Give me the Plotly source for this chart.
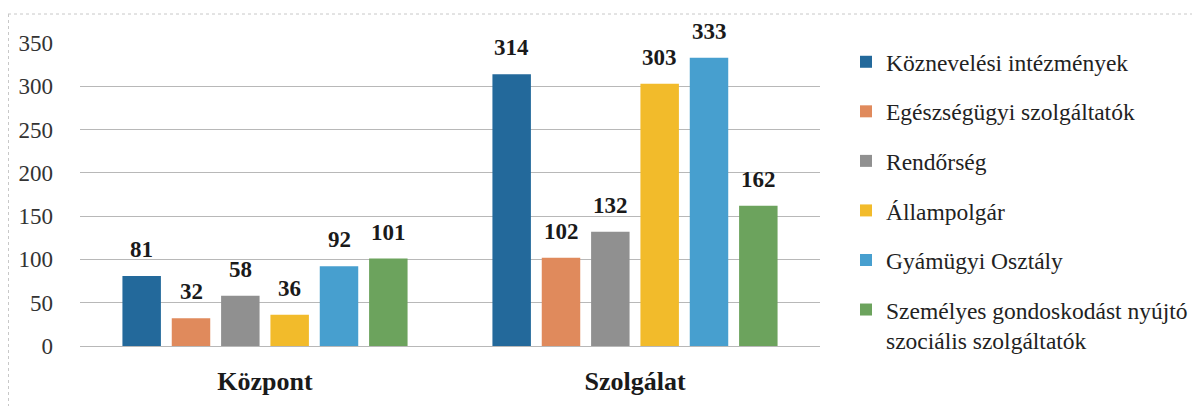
import plotly.graph_objects as go

categories = ["Központ", "Szolgálat"]
series_names = [
    "Köznevelési intézmények",
    "Egészségügyi szolgáltatók",
    "Rendőrség",
    "Állampolgár",
    "Gyámügyi Osztály",
    "Személyes gondoskodást nyújtó<br>szociális szolgáltatók",
]
kozneveles = [81, 314]
egeszsegugy = [32, 102]
rendorseg = [58, 132]
allampolgar = [36, 303]
gyamugy = [92, 333]
szemelyes = [101, 162]
series_values = [kozneveles, egeszsegugy, rendorseg, allampolgar, gyamugy, szemelyes]
colors = ["#23699b", "#e08a5c", "#909090", "#f2bb2b", "#479fcf", "#6ca35d"]
y_ticks = [0, 50, 100, 150, 200, 250, 300, 350]

FONT = "Liberation Serif"
BARGAP = 0.2
GROUPGAP = 0.22

# figure sits 8px inside the page (default body margin)
FW, FH = 1192, 398
W0, W1 = 72, 812
T0, B0 = 35, 338

fig = go.Figure()
n = len(series_values)
for i, (name, vals, col) in enumerate(zip(series_names, series_values, colors)):
    fig.add_trace(go.Bar(
        x=categories, y=vals, name=name,
        marker=dict(color=col, line=dict(width=0)),
        legendgroup=f"g{i}",
        hoverinfo="x+y+name",
    ))

# value labels above bars, positioned via the grouped-bar slot geometry
slot = (1 - BARGAP) / n
for i, vals in enumerate(series_values):
    for ci, v in enumerate(vals):
        xc = ci - (1 - BARGAP) / 2 + slot * (i + 0.5)
        fig.add_annotation(
            x=xc, y=v, xref="x", yref="y",
            text=f"<b>{v}</b>", showarrow=False,
            yanchor="bottom", yshift=12,
            font=dict(family=FONT, size=23, color="#1a1a1a"),
        )

def px_x(p):
    return (p - W0) / (W1 - W0)
def px_y(p):
    return (B0 - p) / (B0 - T0)

fig.update_layout(
    width=FW, height=FH,
    margin=dict(l=W0, r=FW - W1, t=T0, b=FH - B0, autoexpand=False),
    paper_bgcolor="white", plot_bgcolor="white",
    barmode="group", bargap=BARGAP, bargroupgap=GROUPGAP,
    font=dict(family=FONT, color="#222222"),
    showlegend=True,
    legend=dict(
        xref="container", yref="container",
        x=838 / FW, y=1 - 32 / FH, xanchor="left", yanchor="top",
        font=dict(family=FONT, size=23.5, color="#222222"),
        tracegroupgap=16, traceorder="grouped",
        valign="top",
        bgcolor="rgba(0,0,0,0)",
        maxheight=360,
    ),
)
fig.update_xaxes(
    showgrid=False, showline=False, ticks="",
    tickfont=dict(family=FONT, size=26, color="#1a1a1a"),
    tickprefix="<b>", ticksuffix="</b>",
    ticklabelstandoff=17, automargin=False,
    range=[-0.5, 1.5],
)
fig.update_yaxes(
    range=[0, 350], tickvals=y_ticks,
    showgrid=True, gridcolor="#b8b8b8", gridwidth=1,
    zeroline=True, zerolinecolor="#b8b8b8", zerolinewidth=1,
    showline=False, ticks="",
    tickfont=dict(family=FONT, size=23, color="#333333"),
    ticklabelstandoff=26, automargin=False,
)
# outer dotted frame (top and left edges visible in the reference)
fig.add_shape(type="line", xref="paper", yref="paper",
              x0=px_x(0), x1=px_x(FW), y0=px_y(6), y1=px_y(6),
              line=dict(color="#c8c8c8", width=1, dash="dot"))
fig.add_shape(type="line", xref="paper", yref="paper",
              x0=px_x(0.5), x1=px_x(0.5), y0=px_y(6), y1=px_y(FH),
              line=dict(color="#c8c8c8", width=1, dash="dot"))

fig.write_html("out.html")
